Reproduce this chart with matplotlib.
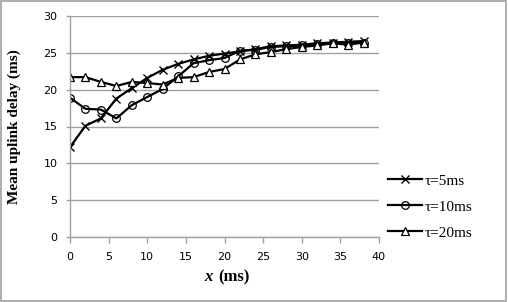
import matplotlib
matplotlib.use("Agg")
import matplotlib.pyplot as plt
from matplotlib.patches import Rectangle

# Data
x = [0, 2, 4, 6, 8, 10, 12, 14, 16, 18, 20, 22, 24, 26, 28, 30, 32, 34, 36, 38]
tau5 = [12.2, 15.1, 16.1, 18.8, 20.2, 21.6, 22.7, 23.5, 24.1, 24.6, 24.9, 25.2, 25.5, 25.9, 26.0, 26.1, 26.3, 26.4, 26.5, 26.6]
tau10 = [18.9, 17.4, 17.3, 16.1, 17.9, 19.0, 20.1, 21.8, 23.6, 24.0, 24.3, 25.3, 25.4, 25.8, 25.9, 26.0, 26.2, 26.3, 26.3, 26.4]
tau20 = [21.7, 21.7, 21.05, 20.5, 21.05, 20.9, 20.7, 21.6, 21.7, 22.4, 22.8, 24.1, 24.8, 25.1, 25.5, 25.8, 26.0, 26.3, 26.1, 26.4]
labels = ["τ=5ms", "τ=10ms", "τ=20ms"]

fig = plt.figure(figsize=(5.08, 3.02), dpi=100)
ax = fig.add_axes([70 / 508, 1 - 237 / 302, (379 - 70) / 508, (237 - 16) / 302])

# cadre gris autour de la figure
fig.patches.append(Rectangle((0.002, 0.003), 0.995, 0.993, transform=fig.transFigure,
                             fill=False, edgecolor="#a0a0a0", linewidth=1.2))

ax.plot(x, tau5, color="black", lw=1.6, marker="x", ms=5.5, mew=1.0, label=labels[0])
ax.plot(x, tau10, color="black", lw=1.6, marker="o", ms=5.5, mfc="none", mew=0.9, label=labels[1])
ax.plot(x, tau20, color="black", lw=1.6, marker="^", ms=5.5, mfc="white", mew=0.9, label=labels[2])

ax.set_xlim(0, 40)
ax.set_ylim(0, 30)
ax.set_xticks(range(0, 41, 5))
ax.set_yticks(range(0, 31, 5))
ax.grid(axis="y", color="#a0a0a0", lw=1.0)
ax.set_axisbelow(True)
for s in ["top", "right"]:
    ax.spines[s].set_visible(False)
for s in ["left", "bottom"]:
    ax.spines[s].set_color("#a0a0a0")
    ax.spines[s].set_linewidth(1.0)
ax.tick_params(axis="both", colors="#a0a0a0", labelcolor="black", labelsize=8, length=4, width=1.0)
ax.tick_params(axis="x", pad=7)
ax.tick_params(axis="y", length=3, pad=6)

ax.set_ylabel("Mean uplink delay (ms)", family="Liberation Serif", fontweight="bold", fontsize=11)
ax.yaxis.set_label_coords((21 - 70) / 309, 0.5)

# libellé x : "x" en italique gras
fig.text(213 / 508, 1 - 277 / 302, "x", family="Liberation Serif", fontweight="bold",
         style="italic", fontsize=12, ha="right", va="center")
fig.text(218 / 508, 1 - 277 / 302, "(ms)", family="Liberation Serif",
         fontweight="bold", fontsize=12, ha="left", va="center")

fig.legend(loc="upper left", bbox_to_anchor=(382 / 508, 1 - 168 / 302), frameon=False,
           prop={"family": "Liberation Serif", "size": 11}, handlelength=2.2,
           handletextpad=0.2, labelspacing=0.8, borderaxespad=0)

fig.savefig("out.png", dpi=100)
